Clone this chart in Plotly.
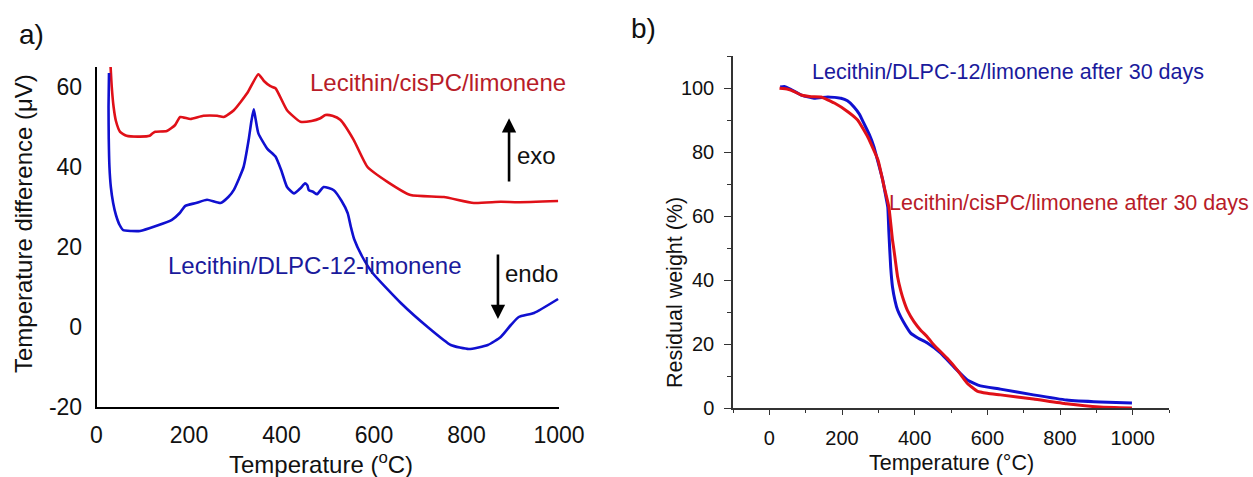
import plotly.graph_objects as go

# ── data ─────────────────────────────────────────────────────────────────────
# a) DSC curves: temperature (°C) vs temperature difference (µV)
dsc_red_t = [30, 33, 37, 42, 51, 65, 94, 115, 120, 127, 152, 170, 181, 203, 231, 261, 275,
             297, 326, 350, 362, 376, 387, 412, 441, 465, 484, 495, 510, 527, 556, 586, 629,
             679, 751, 816, 874, 911, 998]
dsc_red_v = [66, 60, 55, 51.5, 48.8, 47.8, 47.6, 47.8, 48.3, 48.8, 49, 50.5, 52.5, 52, 52.8,
             52.8, 52.5, 54.2, 58.5, 63.2, 61.5, 60.2, 59.7, 54.2, 51.3, 51.5, 52.2, 53, 52.8,
             51.8, 46.8, 40, 36.3, 33, 32.5, 31, 31.3, 31.2, 31.5]

dsc_blue_t = [27, 26, 26.5, 28, 31, 36, 42, 50, 58, 75, 94, 130, 163, 180, 192, 215, 239, 268,
              285, 297, 318, 329, 335, 340, 344, 350, 369, 387, 400, 412, 427, 441, 451, 456,
              459, 468, 477, 491, 513, 530, 543, 550, 557, 575, 597, 658, 716, 766, 805, 846,
              874, 896, 913, 946, 998]
dsc_blue_v = [63.5, 55, 47, 40, 35, 31, 28, 25.5, 24.2, 24, 24, 25.3, 26.8, 28.5, 30.3, 31,
              31.8, 31, 32.5, 34.3, 40, 46.8, 51.5, 54.4, 52, 48.4, 44.6, 42.6, 39, 35, 33.4,
              34.7, 35.9, 35.4, 34.2, 33.8, 33.2, 35, 34.2, 31.5, 28.5, 25, 22, 17.5, 13.5, 6,
              0, -4.5, -5.5, -4.5, -2.5, 0.5, 2.5, 3.5, 7]

# b) TGA curves: temperature (°C) vs residual weight (%)
tga_blue_t = [30, 41, 60, 88, 123, 161, 197, 215, 233, 248, 260, 275, 288, 300, 312, 320, 326,
              329, 334, 339, 346, 353, 362, 375, 389, 410, 435, 471, 508, 544, 565, 581, 636,
              727, 818, 910, 998]
tga_blue_w = [100.3, 100.5, 99.5, 97.8, 96.8, 97.2, 96.8, 96, 94.1, 91.8, 89, 85.5, 81.6, 76.5,
              71.3, 66.5, 62.8, 55, 44, 37.8, 33.5, 30.6, 28.4, 25.8, 23.4, 21.8, 20.3, 17.2,
              12.8, 8.8, 7.6, 6.9, 5.9, 4.1, 2.5, 1.9, 1.6]

tga_red_t = [28, 51, 70, 88, 115, 142, 179, 216, 243, 271, 299, 316, 329, 339, 343, 353, 362,
             370, 380, 398, 416, 435, 453, 489, 517, 544, 572, 600, 636, 727, 818, 910, 998]
tga_red_w = [99.9, 99.6, 98.8, 97.8, 97.3, 97.2, 95.3, 92.6, 90, 84.7, 77.5, 69.1, 62.8, 52.5,
             49.4, 41, 36.5, 33.5, 30.5, 27, 24.4, 22.2, 19.7, 15.6, 11.9, 7.8, 5.3, 4.6, 4.1,
             2.8, 1.3, 0.3, 0]

dsc_yticks = [-20, 0, 20, 40, 60]
dsc_yticktext = ["-20", "0", "20", "40", "60"]
temp_ticks = [0, 200, 400, 600, 800, 1000]
tga_yticks = [0, 20, 40, 60, 80, 100]

dsc_labels = ["Lecithin/cisPC/limonene", "Lecithin/DLPC-12-limonene"]
tga_labels = ["Lecithin/DLPC-12/limonene after 30 days", "Lecithin/cisPC/limonene after 30 days"]

# ── style ────────────────────────────────────────────────────────────────────
W, H = 1253, 477
FONT = "Arial, Liberation Sans, sans-serif"
RED_LINE = "#e01018"
BLUE_LINE = "#1010d0"
RED_TXT = "#b81c28"
BLUE_TXT = "#1a1a9c"


def px(x):
    return x / W


def py(y):
    return 1 - y / H


fig = go.Figure()

fig.add_trace(go.Scatter(x=dsc_red_t, y=dsc_red_v, mode="lines",
                         line=dict(color=RED_LINE, width=2.6, shape="spline", smoothing=0.5),
                         xaxis="x", yaxis="y"))
fig.add_trace(go.Scatter(x=dsc_blue_t, y=dsc_blue_v, mode="lines",
                         line=dict(color=BLUE_LINE, width=2.6, shape="spline", smoothing=0.5),
                         xaxis="x", yaxis="y"))
fig.add_trace(go.Scatter(x=tga_blue_t, y=tga_blue_w, mode="lines",
                         line=dict(color=BLUE_LINE, width=3, shape="spline", smoothing=0.4),
                         xaxis="x2", yaxis="y2"))
fig.add_trace(go.Scatter(x=tga_red_t, y=tga_red_w, mode="lines",
                         line=dict(color=RED_LINE, width=3, shape="spline", smoothing=0.4),
                         xaxis="x2", yaxis="y2"))

tick_a = dict(family=FONT, size=23, color="#111")
tick_b = dict(family=FONT, size=20, color="#111")

fig.update_layout(
    width=W, height=H, autosize=False,
    margin=dict(l=0, r=0, t=0, b=0, autoexpand=False),
    paper_bgcolor="white", plot_bgcolor="white",
    showlegend=False,
    xaxis=dict(domain=[px(96.5), px(559)], range=[0, 1000], tickvals=temp_ticks,
               showgrid=False, zeroline=False, showline=True, linecolor="black", linewidth=1.5,
               ticks="", tickfont=tick_a, ticklabelstandoff=7, anchor="y", automargin=False),
    yaxis=dict(domain=[py(407), py(67)], range=[-20, 65], tickvals=dsc_yticks,
               ticktext=dsc_yticktext,
               showgrid=False, zeroline=False, showline=True, linecolor="black", linewidth=1.5,
               ticks="", tickfont=tick_a, ticklabelstandoff=8, anchor="x", automargin=False),
    xaxis2=dict(domain=[px(733), px(1169)], range=[-100, 1100], tickvals=temp_ticks,
                showgrid=False, zeroline=False, showline=True, linecolor="#333", linewidth=1.5,
                ticks="outside", ticklen=5, tickwidth=1, tickcolor="#333", tickfont=tick_b,
                minor=dict(dtick=100, tick0=-100, ticks="outside", ticklen=3, tickcolor="#333"),
                ticklabelstandoff=6, anchor="y2", automargin=False),
    yaxis2=dict(domain=[py(408), py(56)], range=[0, 110], tickvals=tga_yticks,
                showgrid=False, zeroline=False, showline=True, linecolor="#333", linewidth=1.5,
                ticks="outside", ticklen=7, tickwidth=1, tickcolor="#333", tickfont=tick_b,
                minor=dict(dtick=10, tick0=0, ticks="outside", ticklen=4, tickcolor="#333"),
                ticklabelstandoff=6, anchor="x2", automargin=False),
)

ann = []


def text(x, y, s, size, color="#111", xanchor="center", angle=0):
    ann.append(dict(x=px(x), y=py(y), xref="paper", yref="paper", text=s, showarrow=False,
                    xanchor=xanchor, yanchor="middle", textangle=angle,
                    font=dict(family=FONT, size=size, color=color)))


# panel tags and axis titles
text(31, 34, "a)", 28)
text(643, 28, "b)", 28)
text(321, 463, "Temperature (<sup>o</sup>C)", 24)
text(24, 224, "Temperature difference (\u03bcV)", 24, angle=-90)
text(951, 463, "Temperature (\u00b0C)", 21.5)
text(675, 293, "Residual weight (%)", 21.5, angle=-90)

# curve labels and exo/endo words
for x, y, s, c, xr, yr in [
    (458, 61.2, dsc_labels[0], RED_TXT, "x", "y"),
    (151, 15.5, dsc_labels[1], BLUE_TXT, "x", "y"),
    (905, 43, "exo", "#111", "x", "y"),
    (879, 13.5, "endo", "#111", "x", "y"),
    (112, 105, tga_labels[0], BLUE_TXT, "x2", "y2"),
    (324, 64, tga_labels[1], RED_TXT, "x2", "y2"),
]:
    size = 24 if xr == "x" else 21.5
    ann.append(dict(x=x, y=y, xref=xr, yref=yr, text=s, showarrow=False, xanchor="left",
                    yanchor="middle", font=dict(family=FONT, size=size, color=c)))

# exo / endo arrows
for x, y0, y1 in [(892, 36, 52.2), (868, 18.5, 2)]:
    ann.append(dict(x=x, y=y1, ax=x, ay=y0, xref="x", yref="y", axref="x", ayref="y",
                    text="", showarrow=True, arrowhead=2, arrowsize=1.1, arrowwidth=2.6,
                    arrowcolor="black"))

fig.update_layout(annotations=ann)

# the page's default body margin would shift the figure by 8px
fig.write_html("out.html", config={"displayModeBar": False},
               post_script="document.body.style.margin='0';")
